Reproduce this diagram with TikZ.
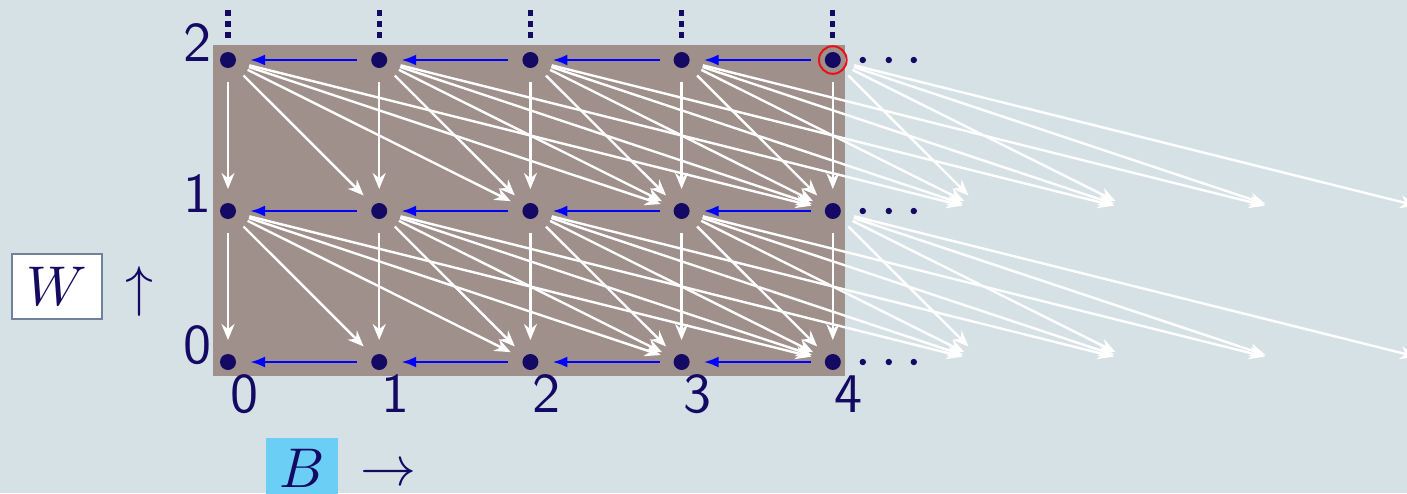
\documentclass[tikz,border=0pt]{standalone}
\usepackage{fontspec}
\usetikzlibrary{arrows.meta}
\definecolor{bgc}{RGB}{214,225,230}
\definecolor{brownc}{RGB}{159,144,140}
\definecolor{navy}{RGB}{20,10,100}
\definecolor{arrowblue}{RGB}{0,0,255}
\definecolor{redc}{RGB}{232,16,26}
\definecolor{bboxc}{RGB}{107,207,245}
\definecolor{wborder}{RGB}{110,130,155}
\newcommand{\mybigmath}[1]{\scalebox{2.8}{$#1$}}
\newcommand{\mybigsf}[1]{\scalebox{2.8}{\fontsize{10}{12}\selectfont\sffamily #1}}
\begin{document}
\begin{tikzpicture}[x=0.5pt,y=-0.5pt,
  dot/.style={circle,fill=navy,inner sep=0pt,minimum size=8pt},
  warrow/.style={draw=white,line width=1.2pt,-{Stealth[length=8pt,width=6.5pt]},shorten <=11pt,shorten >=11pt},
  barrow/.style={draw=arrowblue,line width=1.4pt,-{Latex[length=7.5pt,width=5.5pt]},shorten <=11pt,shorten >=11pt},
  lab/.style={text=navy,inner sep=0pt,anchor=base},
  mlab/.style={text=navy,inner sep=0pt}]
\useasboundingbox[fill=bgc] (0,0) rectangle (1407,493);
\fill[brownc] (213,45) rectangle (845,376);
% grid points
\foreach \i in {0,...,4} \foreach \j in {0,1,2}
  \node[dot] (n-\i-\j) at ({228+151.2*\i},{362-151*\j}) {};
\foreach \i in {5,...,8} \foreach \j in {0,1}
  \coordinate (n-\i-\j) at ({228+151.2*\i},{362-151*\j});
% white arrows
\foreach \i in {0,...,4} \foreach \j in {1,2} \foreach \k in {0,...,4} {
  \pgfmathtruncatemacro\t{\i+\k}
  \pgfmathtruncatemacro\jj{\j-1}
  \draw[warrow] (n-\i-\j.center) -- (n-\t-\jj.center);
}
% blue arrows
\foreach \i in {1,...,4} \foreach \j in {0,1,2} {
  \pgfmathtruncatemacro\s{\i-1}
  \draw[barrow] (n-\i-\j.center) -- (n-\s-\j.center);
}
% continuation dots
\foreach \j in {0,1,2} \foreach \d in {30,56,81}
  \fill[navy,shift={(n-4-\j.center)}] (\d,0) circle (1.6pt);
\foreach \i in {0,...,4} \foreach \yy in {13,24,35}
  \fill[navy] ({228+151.2*\i-2.6},{\yy-2.6}) rectangle +(5.2,5.2);
% red circle
\draw[redc,line width=1pt] (n-4-2.center) circle (6.9pt);
% row labels
\foreach \j in {0,1,2}
  \node[lab] (r-\j) at (197,{363-151*\j}) {\mybigsf{\j}};
% column labels
\foreach \i in {0,...,4}
  \node[lab] (c-\i) at ({244+151.2*\i},412) {\mybigsf{\i}};
% W and B
\node[mlab,draw=wborder,fill=white,line width=0.8pt,minimum width=45pt,minimum height=32.5pt] (wbox) at (57,286.5) {\mybigmath{W}};
\node[mlab] (wup) at (139,291) {\mybigmath{\uparrow}};
\node[mlab,fill=bboxc,minimum width=36pt,minimum height=32pt] (bbox) at (302,470) {};
\node[mlab] (btext) at (302,468) {\mybigmath{B}};
\node[mlab] (bright) at (388,475) {\mybigmath{\rightarrow}};
\end{tikzpicture}
\end{document}
